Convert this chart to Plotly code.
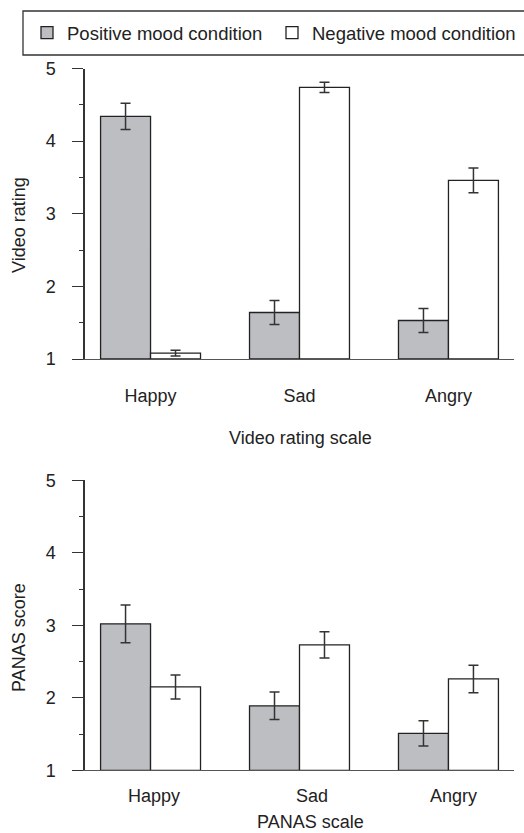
import plotly.graph_objects as go
from plotly.subplots import make_subplots

categories = ["Happy", "Sad", "Angry"]
series_names = ["Positive mood condition", "Negative mood condition"]

video_pos = [4.34, 1.64, 1.53]
video_pos_err = [0.18, 0.165, 0.165]
video_neg = [1.08, 4.74, 3.46]
video_neg_err = [0.04, 0.07, 0.17]

panas_pos = [3.02, 1.89, 1.51]
panas_pos_err = [0.26, 0.19, 0.175]
panas_neg = [2.15, 2.73, 2.26]
panas_neg_err = [0.165, 0.18, 0.19]

y_ticks = [1, 2, 3, 4, 5]

W, H = 524, 833
FONT = "Liberation Sans, Arial, Helvetica, sans-serif"
TXT = "#222222"
POS_FILL = "#bdbec2"
NEG_FILL = "#ffffff"
EDGE = "#222222"


def px_x(p):
    return p / W


def px_y(p):
    return 1 - p / H


fig = make_subplots(rows=2, cols=1)

for row, (pos, pos_e, neg, neg_e) in enumerate(
    [(video_pos, video_pos_err, video_neg, video_neg_err),
     (panas_pos, panas_pos_err, panas_neg, panas_neg_err)], start=1):
    for name, vals, errs, fill in [(series_names[0], pos, pos_e, POS_FILL),
                                   (series_names[1], neg, neg_e, NEG_FILL)]:
        fig.add_trace(go.Bar(
            x=categories, y=[v - 1 for v in vals], base=1,
            name=name, showlegend=(row == 1), hoverinfo="skip",
            marker=dict(color=fill, line=dict(color=EDGE, width=1.3)),
            error_y=dict(type="data", array=errs, visible=True,
                         color="#333333", thickness=1.5, width=5),
        ), row=row, col=1)

xdom = [px_x(85), px_x(514)]
common_x = dict(type="category", range=[-0.44, 2.44], showline=True,
                linecolor="#555555", linewidth=1.3, showgrid=False,
                zeroline=False, ticks="", fixedrange=True, automargin=False,
                tickfont=dict(family=FONT, size=18, color=TXT))
common_y = dict(range=[1, 5], tickvals=y_ticks, showline=True,
                linecolor="#333333", linewidth=1.5, showgrid=False,
                zeroline=False, ticks="outside", ticklen=11,
                tickcolor="#333333", tickwidth=1.3, automargin=False,
                fixedrange=True,
                minor=dict(dtick=0.5, ticks="outside", ticklen=4,
                           tickcolor="#333333", tickwidth=1.2, showgrid=False),
                ticklabelstandoff=13,
                tickfont=dict(family=FONT, size=18, color=TXT))

fig.update_layout(
    xaxis=dict(common_x, domain=xdom, ticklabelstandoff=20),
    xaxis2=dict(common_x, domain=xdom, showticklabels=False),
    yaxis=dict(common_y, domain=[px_y(359), px_y(68.5)]),
    yaxis2=dict(common_y, domain=[px_y(770.3), px_y(480.3)]),
)

annotations = [
    dict(text="Video rating", x=px_x(19), y=px_y(225), textangle=-90),
    dict(text="PANAS score", x=px_x(19), y=px_y(638), textangle=-90),
    dict(text="Video rating scale", x=px_x(300), y=px_y(438)),
    dict(text="PANAS scale", x=px_x(310), y=px_y(822)),
]
for a in annotations:
    a.update(xref="paper", yref="paper", showarrow=False,
             xanchor="center", yanchor="middle",
             font=dict(family=FONT, size=18, color=TXT))
    fig.add_annotation(**a)

label_shift = [3, 12, 5]
for cat, sh in zip(categories, label_shift):
    fig.add_annotation(text=cat, x=cat, xref="x2", y=px_y(796), yref="paper",
                       xshift=sh, showarrow=False, xanchor="center",
                       yanchor="middle",
                       font=dict(family=FONT, size=18, color=TXT))

fig.add_shape(type="rect", xref="paper", yref="paper",
              x0=px_x(23), x1=1.05, y0=px_y(55), y1=px_y(11),
              line=dict(color="#333333", width=1.3), fillcolor="rgba(0,0,0,0)",
              layer="above")

fig.update_layout(
    width=W, height=H,
    margin=dict(l=0, r=0, t=0, b=0, autoexpand=False),
    paper_bgcolor="white", plot_bgcolor="white",
    barmode="group", bargap=0.329, bargroupgap=0,
    font=dict(family=FONT, size=18, color=TXT),
    hovermode=False,
    legend=dict(orientation="h", xref="container", yref="container",
                x=px_x(27), xanchor="left",
                y=px_y(33), yanchor="middle",
                entrywidth=200, entrywidthmode="pixels",
                font=dict(family=FONT, size=18.5, color=TXT),
                bgcolor="rgba(0,0,0,0)", borderwidth=0,
                itemclick=False, itemdoubleclick=False),
    showlegend=True,
)

fig.write_html(
    "out.html",
    config={"displayModeBar": False, "staticPlot": False},
    post_script="document.body.style.margin='0';document.body.style.overflow='hidden';",
)
